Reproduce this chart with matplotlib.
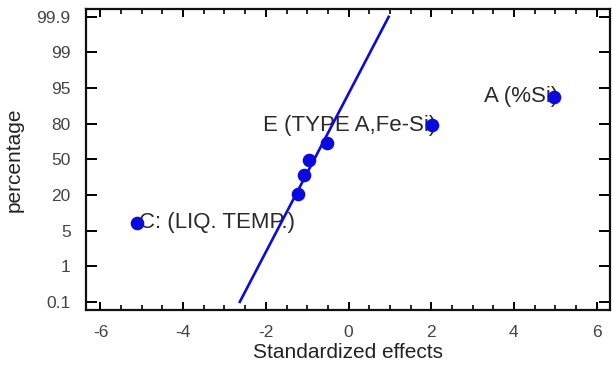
import numpy as np
import matplotlib
matplotlib.use("Agg")
import matplotlib.pyplot as plt
from matplotlib.ticker import MultipleLocator

plt.rcParams['font.family'] = ['Liberation Sans', 'DejaVu Sans']
plt.rcParams['axes.unicode_minus'] = False

# Probability axis labels (evenly spaced on the chart)
prob_labels = [0.1, 1, 5, 20, 50, 80, 95, 99, 99.9]
prob_pos = np.arange(len(prob_labels), dtype=float)

# Effects (standardized) and their cumulative percentages
effect_names = ["C: (LIQ. TEMP.)", "", "", "", "", "E (TYPE A,Fe-Si)", "A (%Si)"]
effect_x = [-5.12, -1.22, -1.08, -0.96, -0.52, 2.01, 4.96]
effect_pct = [8.4, 20.6, 36.8, 49.4, 63.5, 78.8, 91.4]

# Reference line end points
line_x = [-2.63, 0.97]
line_pct = [0.1, 99.9]


def _fwd(p):
    p = np.asarray(p, dtype=float)
    out = np.interp(p, prob_labels, prob_pos)
    lo = (p < prob_labels[0])
    hi = (p > prob_labels[-1])
    s0 = 1.0 / (prob_labels[1] - prob_labels[0])
    s1 = 1.0 / (prob_labels[-1] - prob_labels[-2])
    out = np.where(lo, prob_pos[0] + (p - prob_labels[0]) * s0, out)
    out = np.where(hi, prob_pos[-1] + (p - prob_labels[-1]) * s1, out)
    return out


def _inv(y):
    y = np.asarray(y, dtype=float)
    out = np.interp(y, prob_pos, prob_labels)
    lo = (y < prob_pos[0])
    hi = (y > prob_pos[-1])
    s0 = (prob_labels[1] - prob_labels[0])
    s1 = (prob_labels[-1] - prob_labels[-2])
    out = np.where(lo, prob_labels[0] + (y - prob_pos[0]) * s0, out)
    out = np.where(hi, prob_labels[-1] + (y - prob_pos[-1]) * s1, out)
    return out


fig = plt.figure(figsize=(6.12, 3.70), dpi=100)
ax = fig.add_axes([0.1405, 0.162, 0.856, 0.8137])
ax.set_yscale('function', functions=(_fwd, _inv))

blue = '#0a0ae0'
ax.plot(line_x, line_pct, color=blue, lw=1.9, zorder=2)
ax.plot(effect_x, effect_pct, 'o', color=blue, ms=8.8, zorder=3)

txt_color = '#2a2a2a'
ax.text(effect_x[0] + 0.05, effect_pct[0], effect_names[0], ha='left', va='center',
        fontsize=16, color=txt_color, zorder=1)
ax.text(effect_x[5] + 0.1, effect_pct[5], effect_names[5], ha='right', va='center',
        fontsize=16, color=txt_color, zorder=1)
ax.text(effect_x[6] + 0.1, effect_pct[6], effect_names[6], ha='right', va='center',
        fontsize=16, color=txt_color, zorder=1)

ax.set_xlim(-6.35, 6.32)
ax.set_ylim(_inv(-0.23), _inv(8.22))
ax.set_xticks([-6, -4, -2, 0, 2, 4, 6])
ax.xaxis.set_minor_locator(MultipleLocator(0.5))
ax.set_yticks(prob_labels)
ax.set_yticklabels([f"{v:g}" for v in prob_labels])
ax.yaxis.set_minor_locator(matplotlib.ticker.NullLocator())

for s in ax.spines.values():
    s.set_linewidth(1.6)
    s.set_color('#111111')

ax.tick_params(axis='both', which='major', direction='in', top=True, right=True,
               length=6, width=1.4, labelsize=12.5, labelcolor='#444444')
ax.tick_params(axis='x', which='major', pad=11)
ax.tick_params(axis='y', which='major', length=8, pad=11)
ax.tick_params(axis='x', which='minor', direction='in', top=True, length=3.5, width=1.2)

ax.set_xlabel('Standardized effects', fontsize=15, color='#222222', labelpad=2)
ax.set_ylabel('percentage', fontsize=15, color='#222222', labelpad=9)

fig.savefig('out.png', dpi=100)
